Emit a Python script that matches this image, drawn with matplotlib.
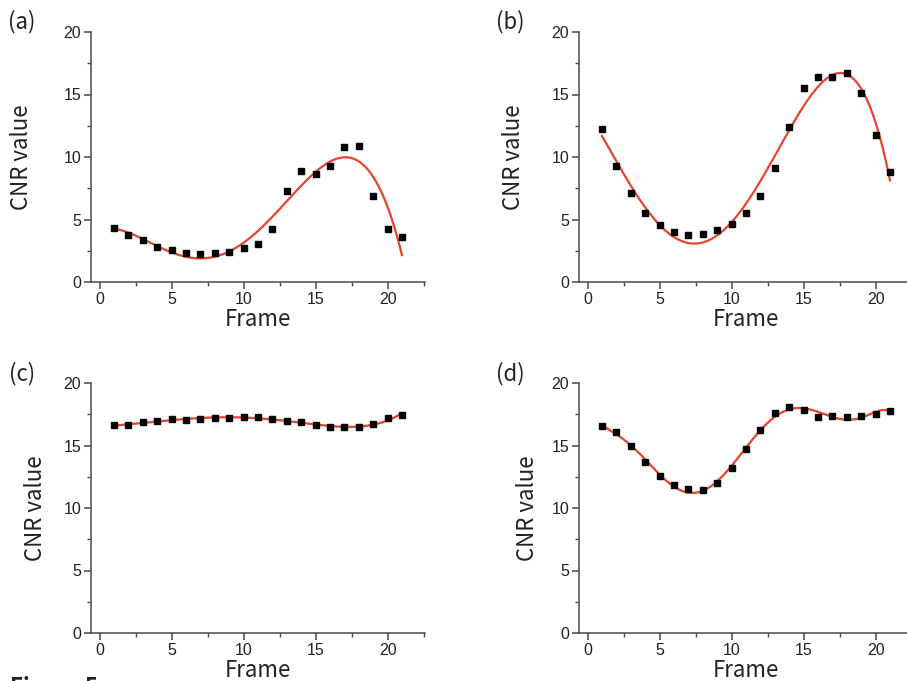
import numpy as np
import matplotlib
matplotlib.use("Agg")
from matplotlib import pyplot as plt
from matplotlib.ticker import MultipleLocator

# ----------------------  Data  ---------------------- #

frames = np.arange(1, 22)

cnr_a = [4.32, 3.79, 3.33, 2.80, 2.53, 2.29, 2.27, 2.29, 2.40, 2.69, 3.01,
         4.24, 7.28, 8.90, 8.67, 9.31, 10.77, 10.90, 6.88, 4.24, 3.60]
cnr_b = [12.24, 9.28, 7.12, 5.55, 4.53, 4.03, 3.79, 3.81, 4.13, 4.67, 5.49,
         6.85, 9.15, 12.40, 15.55, 16.37, 16.40, 16.69, 15.15, 11.73, 8.83]
cnr_c = [16.61, 16.61, 16.85, 16.99, 17.12, 17.04, 17.12, 17.17, 17.20, 17.31, 17.28,
         17.09, 16.99, 16.88, 16.64, 16.45, 16.45, 16.48, 16.69, 17.20, 17.47]
cnr_d = [16.59, 16.05, 14.99, 13.71, 12.59, 11.81, 11.49, 11.41, 12.00, 13.17, 14.72,
         16.27, 17.60, 18.08, 17.81, 17.31, 17.36, 17.25, 17.33, 17.49, 17.79]

panel_labels = ["(a)", "(b)", "(c)", "(d)"]
series = [cnr_a, cnr_b, cnr_c, cnr_d]
fit_degrees = [4, 4, 5, 7]

# ----------------------  Layout  ---------------------- #

W, H = 907, 681
# axes boxes in pixels: left, top, width, height
boxes = [(91, 32, 334, 250), (579, 32, 334, 250),
         (91, 383, 334, 250), (579, 383, 334, 250)]
label_pos = [(22, 22), (510, 22), (22, 374), (510, 374)]
ylabel_pad = [22, 19, 12, 9]

red = "#e8432c"
spine_col = "#4a4a4a"
tick_font = "Liberation Sans"
label_font = ["Noto Sans CJK SC", "DejaVu Sans"]

fig = plt.figure(figsize=(W / 100, H / 100), dpi=100)

for i in range(4):
    l, t, w, h = boxes[i]
    ax = fig.add_axes([l / W, 1 - (t + h) / H, w / W, h / H])
    y = np.array(series[i])

    # polynomial fit (red line) through the measured points
    coef = np.polyfit(frames, y, fit_degrees[i])
    xs = np.linspace(1, 21, 300)
    ax.plot(xs, np.polyval(coef, xs), color=red, lw=1.6, zorder=2)
    ax.plot(frames, y, "s", color="black", ms=4, zorder=3)

    ax.set_xlim(-0.6, 22.6)
    ax.set_ylim(0, 20)
    ax.xaxis.set_major_locator(MultipleLocator(5))
    ax.xaxis.set_minor_locator(MultipleLocator(2.5))
    ax.yaxis.set_major_locator(MultipleLocator(5))
    ax.yaxis.set_minor_locator(MultipleLocator(2.5))

    for s in ["top", "right"]:
        ax.spines[s].set_visible(False)
    for s in ["left", "bottom"]:
        ax.spines[s].set_color(spine_col)
        ax.spines[s].set_linewidth(1.1)

    ax.tick_params(which="major", direction="out", length=5, width=1.1,
                   color=spine_col, labelsize=11.5, pad=2)
    ax.tick_params(which="minor", direction="out", length=3, width=1.0,
                   color=spine_col)
    for lab in ax.get_xticklabels() + ax.get_yticklabels():
        lab.set_fontfamily(tick_font)
        lab.set_color("#222222")

    ax.set_xlabel("Frame", fontsize=16, family=label_font, color="#222222", labelpad=1)
    ax.set_ylabel("CNR value", fontsize=16, family=label_font, color="#222222",
                  labelpad=ylabel_pad[i])

    lx, ly = label_pos[i]
    fig.text(lx / W, 1 - ly / H, panel_labels[i], fontsize=16, family=label_font,
             color="#222222", ha="center", va="center")

# caption cut off at the bottom edge, as in the source image
fig.text(10 / W, 1 - 676 / H, "Figure 5", fontsize=16, family=label_font,
         weight="bold", color="#222222", ha="left", va="top")

fig.savefig("out.png", dpi=100)
